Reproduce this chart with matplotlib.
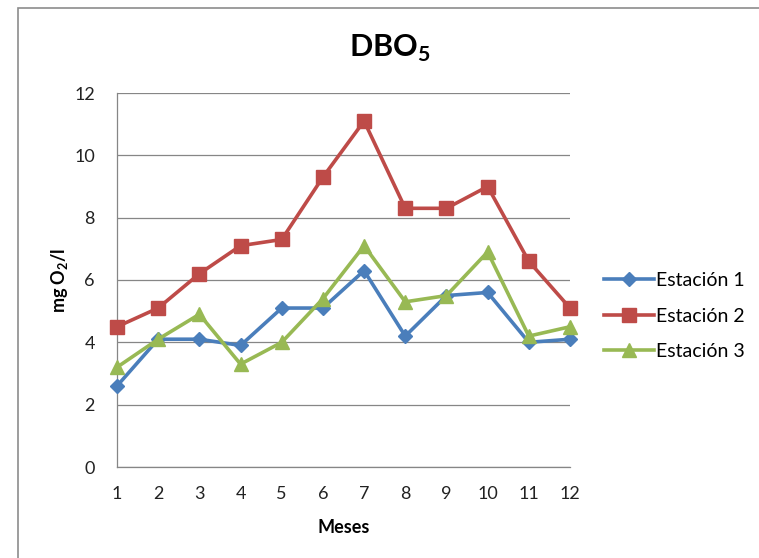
import matplotlib.pyplot as plt
from matplotlib.patches import Rectangle

plt.rcParams['font.family'] = ['Lato', 'DejaVu Sans']
plt.rcParams['mathtext.fontset'] = 'custom'
plt.rcParams['mathtext.rm'] = 'Lato'
plt.rcParams['mathtext.bf'] = 'Lato:bold'

meses = [1, 2, 3, 4, 5, 6, 7, 8, 9, 10, 11, 12]
estacion_1 = [2.6, 4.1, 4.1, 3.9, 5.1, 5.1, 6.3, 4.2, 5.5, 5.6, 4.0, 4.1]
estacion_2 = [4.5, 5.1, 6.2, 7.1, 7.3, 9.3, 11.1, 8.3, 8.3, 9.0, 6.6, 5.1]
estacion_3 = [3.2, 4.1, 4.9, 3.3, 4.0, 5.4, 7.1, 5.3, 5.5, 6.9, 4.2, 4.5]
y_ticks = [0, 2, 4, 6, 8, 10, 12]

W, H = 759, 558
fig = plt.figure(figsize=(W / 100, H / 100), dpi=100)
fig.patch.set_facecolor('white')

# chart frame (runs off the right and bottom edges)
fig.patches.append(Rectangle((18 / W, -0.05), 1.0, 1 - 8 / H + 0.05,
                             transform=fig.transFigure, fill=False,
                             edgecolor='#8c8c8c', linewidth=1.2))

ax = fig.add_axes([117 / W, 1 - 467 / H, (570 - 117) / W, (467 - 93) / H])

series = [
    (estacion_1, 'Estación 1', '#4A7EBB', 'D', 7.5),
    (estacion_2, 'Estación 2', '#BE4B48', 's', 9.5),
    (estacion_3, 'Estación 3', '#98B954', '^', 10),
]
for vals, name, col, mk, ms in series:
    ax.plot(meses, vals, color=col, linewidth=2.6, marker=mk, markersize=ms,
            markeredgecolor=col, label=name, clip_on=False, zorder=3)

ax.set_xlim(1, 12)
ax.set_ylim(0, 12)
ax.set_xticks(meses)
ax.set_yticks(y_ticks)
ax.yaxis.grid(True, color='#868686', linewidth=0.9)
ax.set_axisbelow(True)
for side in ['top', 'right']:
    ax.spines[side].set_visible(False)
for side in ['left', 'bottom']:
    ax.spines[side].set_color('#868686')
    ax.spines[side].set_linewidth(0.9)
ax.tick_params(length=0, labelsize=13, colors='#222222')
ax.tick_params(axis='x', pad=14)
ax.tick_params(axis='y', pad=16)

fig.text(390 / W, 1 - 48 / H, r'DBO$_\mathbf{5}$', fontsize=22,
         fontweight='bold', ha='center', va='center')
ax.set_xlabel('Meses', fontsize=13, fontweight='bold', labelpad=12)
ax.set_ylabel(r'mg O$_\mathbf{2}$/l', fontsize=13, fontweight='bold',
              labelpad=3)

ax.legend(loc='center left', bbox_to_anchor=(596 / W, 1 - 316 / H),
          bbox_transform=fig.transFigure, frameon=False, fontsize=14,
          handlelength=2.6, handletextpad=0.1, labelspacing=0.95,
          borderaxespad=0)

fig.savefig('out.png', dpi=100)
